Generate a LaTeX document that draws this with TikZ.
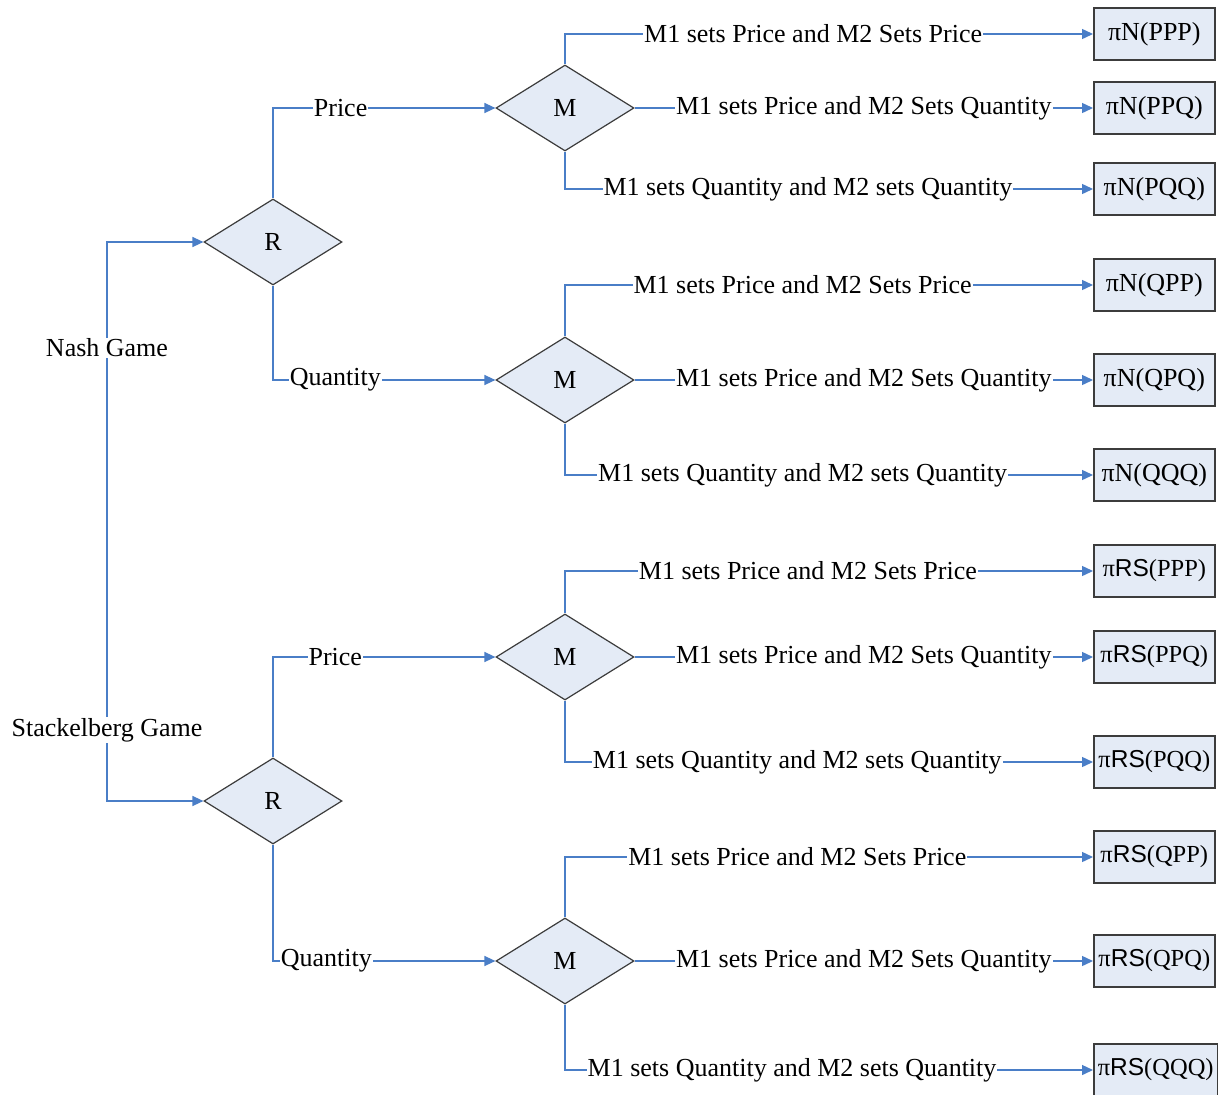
\documentclass[tikz,border=0pt]{standalone}
\usepackage{fontspec}
\setmainfont{Liberation Serif}
\newfontfamily\rsfont{Liberation Sans}
\usetikzlibrary{shapes.geometric,arrows.meta}
\definecolor{linkblue}{RGB}{74,126,199}
\definecolor{shapefill}{RGB}{228,235,246}
\definecolor{shapeline}{RGB}{60,60,60}

\begin{document}
\begin{tikzpicture}[x=1pt,y=-1pt,font=\fontsize{26}{30}\selectfont,
	choice/.style={diamond,draw=shapeline,fill=shapefill,line width=1.2pt,minimum width=138pt,minimum height=86pt,inner sep=0pt},
	payoff/.style={rectangle,draw=shapeline,fill=shapefill,line width=1.6pt,minimum width=121pt,minimum height=52pt,inner sep=4pt,anchor=west},
	rspayoff/.style={payoff,font=\fontsize{24.5}{30}\selectfont},
	link/.style={draw=linkblue,line width=1.4pt,-{Triangle[length=11pt,width=10pt]}},
	tag/.style={fill=white,inner sep=1pt}]
				  \fill[white] (0,0) rectangle (1229,1095);
				  \useasboundingbox (0,0) rectangle (1229,1095);
				  %RETAILER
				  \node[choice] (R1) at (273,242) {R};
				  \node[choice] (R2) at (273,801) {R};
				  %MANUFACTURERS
				  \node[choice] (M1) at (565,108) {M};
				  \node[choice] (M2) at (565,380) {M};
				  \node[choice] (M3) at (565,657) {M};
				  \node[choice] (M4) at (565,961) {M};
				  %PROFITS NASH
				  \node[payoff] (NPPP) at (1093,34) {πN(PPP)};
				  \node[payoff] (NPPQ) at (1093,108) {πN(PPQ)};
				  \node[payoff] (NPQQ) at (1093,189) {πN(PQQ)};
				  \node[payoff] (NQPP) at (1093,285) {πN(QPP)};
				  \node[payoff] (NQPQ) at (1093,380) {πN(QPQ)};
				  \node[payoff] (NQQQ) at (1093,475) {πN(QQQ)};
				  %PROFITS STACKELBERG
				  \node[rspayoff] (SPPP) at (1093,571) {π{\rsfont RS}(PPP)};
				  \node[rspayoff] (SPPQ) at (1093,657) {π{\rsfont RS}(PPQ)};
				  \node[rspayoff] (SPQQ) at (1093,762) {π{\rsfont RS}(PQQ)};
				  \node[rspayoff] (SQPP) at (1093,857) {π{\rsfont RS}(QPP)};
				  \node[rspayoff] (SQPQ) at (1093,961) {π{\rsfont RS}(QPQ)};
				  \node[rspayoff] (SQQQ) at (1093,1070) {π{\rsfont RS}(QQQ)};
				  %GAMES
				  \coordinate (G) at (107,540);
				  \draw[link] (G) |- (R1.west) node[tag,pos=0.322]{Nash Game};
				  \draw[link] (G) |- (R2.west) node[tag,pos=0.364]{Stackelberg Game};
				  %RETAILER DECISIONS
				  \draw[link] (R1.north) |- (M1.west) node[tag,pos=0.652]{Price};
				  \draw[link] (R1.south) |- (M2.west) node[tag,pos=0.64]{Quantity};
				  \draw[link] (R2.north) |- (M3.west) node[tag,pos=0.64]{Price};
				  \draw[link] (R2.south) |- (M4.west) node[tag,pos=0.62]{Quantity};
				  %MANUFACTURER DECISIONS
				  \draw[link] (M1.north) |- (NPPP.west) node[tag,pos=0.735]{M1 sets Price and M2 Sets Price};
				  \draw[link] (M1.east) -- (NPPQ.west) node[tag,pos=0.5]{M1 sets Price and M2 Sets Quantity};
				  \draw[link] (M1.south) |- (NPQQ.west) node[tag,pos=0.73]{M1 sets Quantity and M2 sets Quantity};
				  \draw[link] (M2.north) |- (NQPP.west) node[tag,pos=0.725]{M1 sets Price and M2 Sets Price};
				  \draw[link] (M2.east) -- (NQPQ.west) node[tag,pos=0.5]{M1 sets Price and M2 Sets Quantity};
				  \draw[link] (M2.south) |- (NQQQ.west) node[tag,pos=0.725]{M1 sets Quantity and M2 sets Quantity};
				  \draw[link] (M3.north) |- (SPPP.west) node[tag,pos=0.73]{M1 sets Price and M2 Sets Price};
				  \draw[link] (M3.east) -- (SPPQ.west) node[tag,pos=0.5]{M1 sets Price and M2 Sets Quantity};
				  \draw[link] (M3.south) |- (SPQQ.west) node[tag,pos=0.72]{M1 sets Quantity and M2 sets Quantity};
				  \draw[link] (M4.north) |- (SQPP.west) node[tag,pos=0.72]{M1 sets Price and M2 Sets Price};
				  \draw[link] (M4.east) -- (SQPQ.west) node[tag,pos=0.5]{M1 sets Price and M2 Sets Quantity};
				  \draw[link] (M4.south) |- (SQQQ.west) node[tag,pos=0.715]{M1 sets Quantity and M2 sets Quantity};
\end{tikzpicture}
\end{document}
